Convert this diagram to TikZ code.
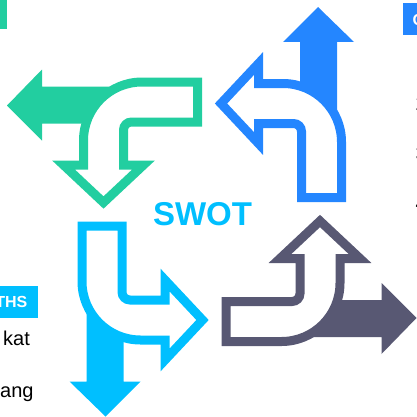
\documentclass[tikz,border=0pt]{standalone}
\usepackage{fontspec}
\setmainfont{Liberation Sans}
\definecolor{swotgreen}{RGB}{34,206,160}
\definecolor{swotblue}{RGB}{36,134,255}
\definecolor{swotcyan}{RGB}{0,191,255}
\definecolor{swotslate}{RGB}{88,88,115}

\begin{document}
\begin{tikzpicture}[x=1pt, y=1pt, line join=miter,
                bentoutline/.style={draw=#1, fill=white, line width=9pt},
                straightarrow/.style={fill=#1, draw=none},
                headtext/.style={inner sep=0pt, text=white, font=\bfseries\fontsize{16}{16}\selectfont},
                bodytext/.style={inner sep=0pt, text=black, font=\fontsize{20}{24}\selectfont}]
            \useasboundingbox (0,0) rectangle (417,416);
            \clip (0,0) rectangle (417,416);
            % Split arrows, one per quarter
        \foreach \angle/\col in {
            0/swotblue,
            90/swotgreen,
            180/swotcyan,
            270/swotslate} {
            \begin{scope}[shift={(211.75,204.25)}, rotate=\angle]
                \fill[straightarrow=\col] (88.25,61.75) -- (88.25,169.75) -- (71.25,169.75) -- (106.25,204.75) -- (142.25,169.75) -- (125.25,169.75) -- (125.25,61.75) -- cycle;
                \draw[bentoutline=\col] (89.75,14.25) -- (129.75,14.25) -- (129.75,69.75) arc[start angle=0, end angle=90, radius=58.5] -- (46.75,128.25) -- (46.75,148.25) -- (9.25,108.25) -- (46.75,68.25) -- (46.75,88.25) -- (81.75,88.25) arc[start angle=90, end angle=0, radius=8] -- cycle;
            \end{scope}
        }
        % Centre title
        \node[text=swotcyan, font=\bfseries\fontsize{33}{33}\selectfont] (swot) at (202.5, 201.5) {SWOT};
        % Label boxes cut by the border
        \fill[swotgreen] (0,416) rectangle (7,387);
        \fill[swotblue] (403,413) rectangle (417,381);
        \node[headtext, anchor=west] (opphead) at (412.5, 396.5) {O};
        \fill[swotcyan] (0,130) rectangle (38,98);
        \node[headtext, anchor=east] (strhead) at (27.5, 114) {THS};
        % Text cut by the border
        \node[bodytext, anchor=base west] (strone) at (3, 71) {kat};
        \node[bodytext, anchor=base west] (strtwo) at (0, 19) {ang};
        \foreach \n/\y in {1/362, 2/312.5, 3/262.5, 4/212.5} {
            \node[bodytext, anchor=west] (opp\n) at (415.5, \y) {\n};
        }
\end{tikzpicture}
\end{document}
